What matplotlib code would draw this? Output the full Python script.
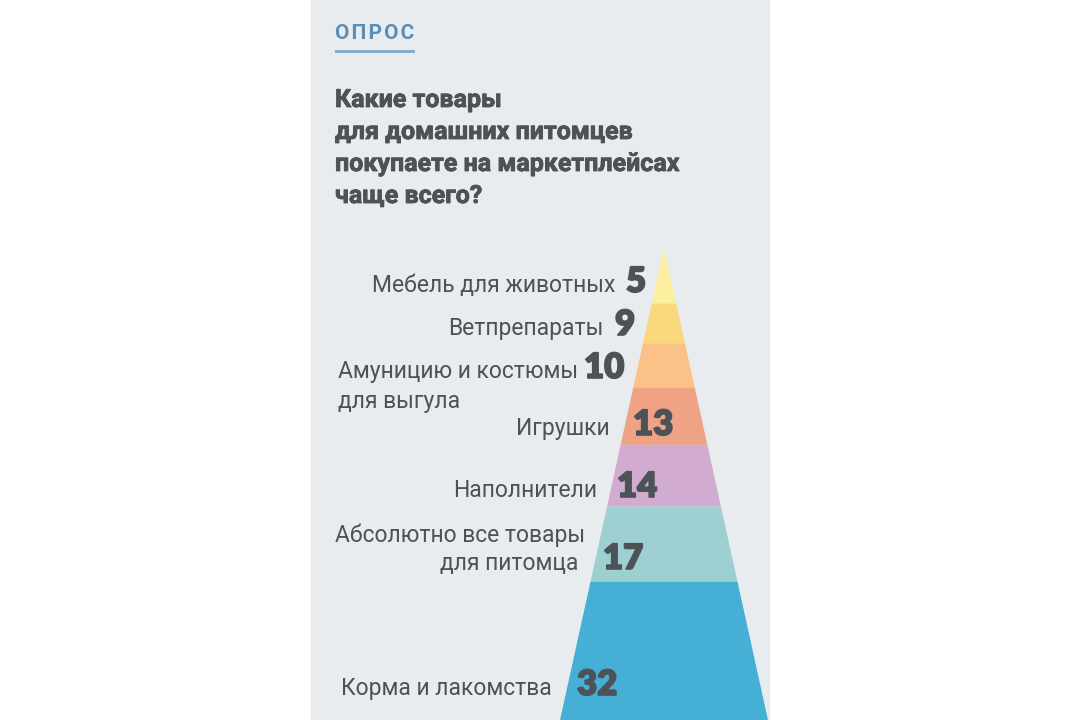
import matplotlib
matplotlib.use("Agg")
import matplotlib.pyplot as plt
import matplotlib.patheffects as pe
from matplotlib.patches import Polygon, Rectangle

# survey data (percent), top of pyramid first
categories = ["Мебель для животных", "Ветпрепараты", "Амуницию и костюмы\nдля выгула",
              "Игрушки", "Наполнители", "Абсолютно все товары\nдля питомца",
              "Корма и лакомства"]
values = [5, 9, 10, 13, 14, 17, 32]
colors = ["#fcef9f", "#fad97e", "#fbc187", "#f0a285", "#d2abd0", "#9ed0d1", "#46afd6"]

tip = 7.6  # the apex sits a little above the 0 mark

text_col = "#4d5257"
panel_col = "#e9ecef"

fig = plt.figure(figsize=(10.8, 7.2), dpi=100)
fig.patch.set_facecolor("white")
W, H = 1080, 720

# background panel
bg = fig.add_axes([0, 0, 1, 1])
bg.set_xlim(0, W)
bg.set_ylim(H, 0)
bg.axis("off")
bg.add_patch(Rectangle((311, 0), 458, 720, color=panel_col, zorder=0))

# pyramid axes: x = relative half width, y = cumulative percent
top_px, bot_px = 248, 722.8
cx, hw = 664, 104.6
pa = fig.add_axes([(cx - hw) / W, (H - bot_px) / H, 2 * hw / W, (bot_px - top_px) / H])
pa.set_xlim(-1, 1)
pa.set_ylim(100, -tip)
pa.axis("off")
pa.patch.set_alpha(0)

total = sum(values)
start = -tip
cum = 0
for v, c in zip(values, colors):
    y0 = start
    cum += v
    y1 = cum
    w0 = (y0 + tip) / (total + tip)
    w1 = (y1 + tip) / (total + tip)
    pa.add_patch(Polygon([(-w0, y0), (w0, y0), (w1, y1), (-w1, y1)],
                         closed=True, facecolor=c, edgecolor="none"))
    start = y1

# text overlay in pixel units
tx = fig.add_axes([0, 0, 1, 1])
tx.set_xlim(0, W)
tx.set_ylim(H, 0)
tx.axis("off")
tx.patch.set_alpha(0)

tx.text(335, 39, "\u200a".join("ОПРОС"), fontsize=15, fontweight="bold",
        color="#5a8dbb", family="Roboto", va="baseline")
tx.plot([336, 413], [50.5, 50.5], color="#7aa6cf", lw=2)

question = ["Какие товары", "для домашних питомцев",
            "покупаете на маркетплейсах", "чаще всего?"]
for i, line in enumerate(question):
    tx.text(335, 107 + 32 * i, line, fontsize=18, fontweight="bold",
            color=text_col, family="Roboto", va="baseline",
            path_effects=[pe.withStroke(linewidth=0.6, foreground=text_col)])

# label layout: (label right x, number left x, baseline y)
label_pos = [(615, 626, 292), (603, 615, 335), (570, 584, 378), (610, 633, 435),
             (597, 617, 497), (585, 603, 542), (552, 577, 695)]

lab_kw = dict(fontsize=16.5, color=text_col, family="Roboto", va="baseline")
num_kw = dict(fontsize=25, fontweight="heavy", color=text_col, family="Lato",
              va="baseline",
              path_effects=[pe.withStroke(linewidth=1.2, foreground=text_col)])

for cat, v, (lx, nx, by) in zip(categories, values, label_pos):
    lines = cat.split("\n")
    if len(lines) == 2 and cat.startswith("Амуницию"):
        tx.text(338, by, lines[0], ha="left", **lab_kw)
        tx.text(338, by + 30, lines[1], ha="left", **lab_kw)
        tx.text(nx, by, str(v), **num_kw)
    elif len(lines) == 2:
        tx.text(lx, by, lines[0], ha="right", **lab_kw)
        tx.text(lx - 7, by + 28, lines[1], ha="right", **lab_kw)
        tx.text(nx, by + 27, str(v), **num_kw)
    else:
        tx.text(lx, by, cat, ha="right", **lab_kw)
        tx.text(nx, by, str(v), **num_kw)

fig.savefig("out.png", dpi=100)
